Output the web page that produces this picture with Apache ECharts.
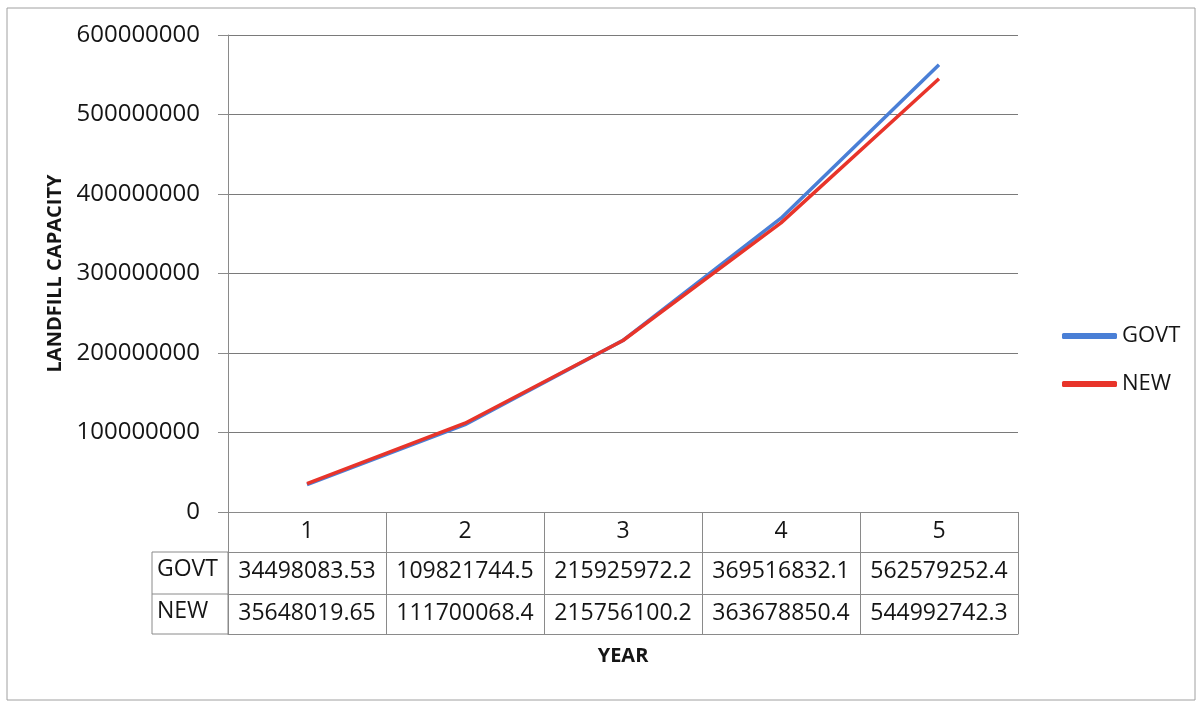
<!DOCTYPE html>
<html>
<head>
<meta charset="utf-8">
<title>Landfill capacity</title>
<script src="https://cdn.jsdelivr.net/npm/echarts@6/dist/echarts.min.js"></script>
<style>
  html, body { margin: 0; padding: 0; background: #fff; }
  #chart { width: 1200px; height: 708px; }
</style>
</head>
<body>
<div id="chart"></div>
<script>
var years = ['1', '2', '3', '4', '5'];
var govt = [34498083.53, 109821744.5, 215925972.2, 369516832.1, 562579252.4];
var newer = [35648019.65, 111700068.4, 215756100.2, 363678850.4, 544992742.3];
var seriesNames = ['GOVT', 'NEW'];

var FONT = "'Open Sans', sans-serif";
var INK = '#151515';
var RULE = '#8a8a8a';

var chart = echarts.init(document.getElementById('chart'));

// one extra x axis per table row, offset below the plot
function tableRow(values, offset) {
  return {
    type: 'category',
    data: values.map(function (v) { return String(v); }),
    boundaryGap: true,
    position: 'bottom',
    offset: offset,
    axisLine: { show: true, lineStyle: { color: RULE, width: 1 } },
    axisTick: { show: false },
    axisLabel: { margin: 8, interval: 0, hideOverlap: false, fontSize: 23, fontFamily: FONT, color: INK },
    splitLine: { show: false }
  };
}

var option = {
  backgroundColor: '#fff',
  animation: false,
  grid: { left: 228, right: 182, top: 35, bottom: 196 },
  legend: {
    orient: 'vertical',
    left: 1057,
    top: 319,
    itemWidth: 55,
    itemHeight: 6,
    itemGap: 24,
    icon: 'roundRect',
    textStyle: { fontSize: 22, fontFamily: FONT, color: INK, lineHeight: 24 },
    data: seriesNames
  },
  xAxis: [
    {
      type: 'category',
      data: years,
      boundaryGap: true,
      axisLine: { show: true, lineStyle: { color: RULE, width: 1 } },
      axisTick: { show: true, length: 122, lineStyle: { color: RULE, width: 1 } },
      axisLabel: { margin: 8, fontSize: 23, fontFamily: FONT, color: INK },
      splitLine: { show: false }
    },
    tableRow(govt, 40),
    tableRow(newer, 82),
    {
      type: 'category',
      data: years,
      position: 'bottom',
      offset: 122,
      axisLine: { show: true, lineStyle: { color: RULE, width: 1 } },
      axisTick: { show: false },
      axisLabel: { show: false },
      name: 'YEAR',
      nameLocation: 'middle',
      nameGap: 12,
      nameTextStyle: { fontSize: 20, fontWeight: 'bold', fontFamily: FONT, color: INK }
    }
  ],
  yAxis: {
    type: 'value',
    min: 0,
    max: 600000000,
    interval: 100000000,
    name: 'LANDFILL CAPACITY',
    nameLocation: 'middle',
    nameGap: 155,
    nameTextStyle: { fontSize: 20, fontWeight: 'bold', fontFamily: FONT, color: INK },
    axisLine: { show: true, lineStyle: { color: RULE, width: 1 } },
    axisTick: { show: true, length: 10, lineStyle: { color: RULE } },
    axisLabel: {
      margin: 28, fontSize: 24, fontFamily: FONT, color: INK,
      formatter: function (v) { return String(v); }
    },
    splitLine: { show: true, lineStyle: { color: '#7a7a7a', width: 1 } }
  },
  series: [
    {
      name: seriesNames[0],
      type: 'line',
      data: govt,
      symbol: 'none',
      lineStyle: { color: '#4a7fd6', width: 3.5 },
      itemStyle: { color: '#4a7fd6' }
    },
    {
      name: seriesNames[1],
      type: 'line',
      data: newer,
      symbol: 'none',
      lineStyle: { color: '#e8342a', width: 3.5 },
      itemStyle: { color: '#e8342a' }
    }
  ],
  graphic: [
    // outer chart frame
    { type: 'rect', shape: { x: 7, y: 8, width: 1188, height: 692 },
      style: { fill: null, stroke: '#a0a0a0', lineWidth: 1 } },
    // series-name column of the data table
    { type: 'rect', shape: { x: 152, y: 552, width: 76, height: 82 },
      style: { fill: null, stroke: RULE, lineWidth: 1 } },
    { type: 'line', shape: { x1: 152, y1: 594, x2: 228, y2: 594 },
      style: { stroke: RULE, lineWidth: 1 } },
    { type: 'text', left: 157, top: 558,
      style: { text: seriesNames[0], fontSize: 23, fontFamily: FONT, fill: INK } },
    { type: 'text', left: 157, top: 600,
      style: { text: seriesNames[1], fontSize: 23, fontFamily: FONT, fill: INK } }
  ]
};

chart.setOption(option);
</script>
</body>
</html>
